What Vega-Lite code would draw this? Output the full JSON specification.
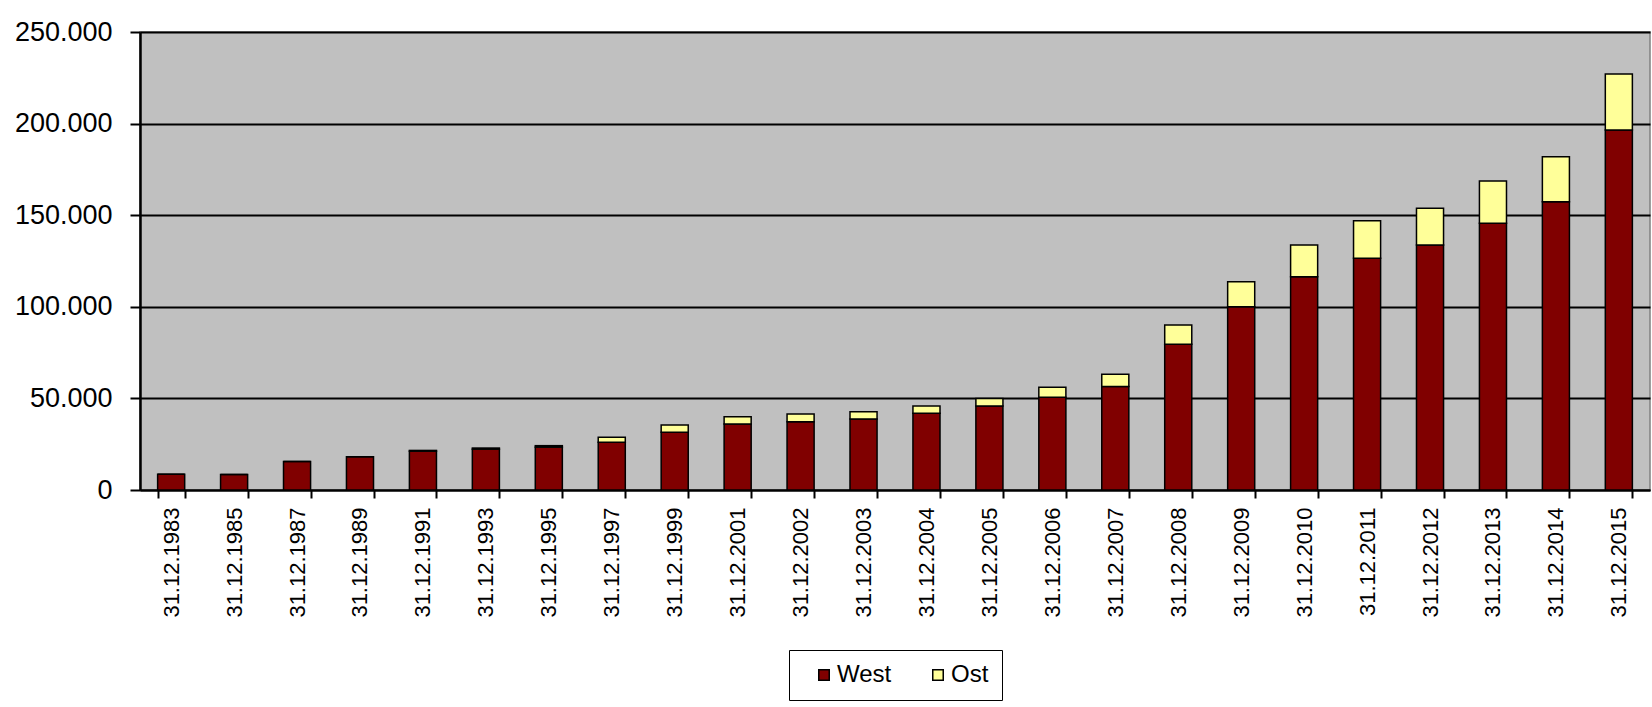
{
  "$schema": "https://vega.github.io/schema/vega-lite/v6.json",
  "autosize": {"type": "none"},
  "width": 1510,
  "height": 458,
  "padding": {"left": 140, "top": 32, "right": 2, "bottom": 217},
  "background": "white",
  "data": {
    "values": [
      {"datum": "31.12.1983", "region": "West", "value": 8600},
      {"datum": "31.12.1983", "region": "Ost", "value": 0},
      {"datum": "31.12.1985", "region": "West", "value": 8500},
      {"datum": "31.12.1985", "region": "Ost", "value": 0},
      {"datum": "31.12.1987", "region": "West", "value": 15600},
      {"datum": "31.12.1987", "region": "Ost", "value": 0},
      {"datum": "31.12.1989", "region": "West", "value": 18200},
      {"datum": "31.12.1989", "region": "Ost", "value": 0},
      {"datum": "31.12.1991", "region": "West", "value": 21200},
      {"datum": "31.12.1991", "region": "Ost", "value": 400},
      {"datum": "31.12.1993", "region": "West", "value": 22300},
      {"datum": "31.12.1993", "region": "Ost", "value": 600},
      {"datum": "31.12.1995", "region": "West", "value": 23400},
      {"datum": "31.12.1995", "region": "Ost", "value": 800},
      {"datum": "31.12.1997", "region": "West", "value": 26000},
      {"datum": "31.12.1997", "region": "Ost", "value": 2800},
      {"datum": "31.12.1999", "region": "West", "value": 31500},
      {"datum": "31.12.1999", "region": "Ost", "value": 4000},
      {"datum": "31.12.2001", "region": "West", "value": 36000},
      {"datum": "31.12.2001", "region": "Ost", "value": 4000},
      {"datum": "31.12.2002", "region": "West", "value": 37300},
      {"datum": "31.12.2002", "region": "Ost", "value": 4200},
      {"datum": "31.12.2003", "region": "West", "value": 38800},
      {"datum": "31.12.2003", "region": "Ost", "value": 3900},
      {"datum": "31.12.2004", "region": "West", "value": 41900},
      {"datum": "31.12.2004", "region": "Ost", "value": 4000},
      {"datum": "31.12.2005", "region": "West", "value": 45900},
      {"datum": "31.12.2005", "region": "Ost", "value": 4100},
      {"datum": "31.12.2006", "region": "West", "value": 50600},
      {"datum": "31.12.2006", "region": "Ost", "value": 5500},
      {"datum": "31.12.2007", "region": "West", "value": 56500},
      {"datum": "31.12.2007", "region": "Ost", "value": 6700},
      {"datum": "31.12.2008", "region": "West", "value": 79500},
      {"datum": "31.12.2008", "region": "Ost", "value": 10600},
      {"datum": "31.12.2009", "region": "West", "value": 100000},
      {"datum": "31.12.2009", "region": "Ost", "value": 13700},
      {"datum": "31.12.2010", "region": "West", "value": 116400},
      {"datum": "31.12.2010", "region": "Ost", "value": 17300},
      {"datum": "31.12.2011", "region": "West", "value": 126500},
      {"datum": "31.12.2011", "region": "Ost", "value": 20500},
      {"datum": "31.12.2012", "region": "West", "value": 133700},
      {"datum": "31.12.2012", "region": "Ost", "value": 20100},
      {"datum": "31.12.2013", "region": "West", "value": 145600},
      {"datum": "31.12.2013", "region": "Ost", "value": 23100},
      {"datum": "31.12.2014", "region": "West", "value": 157400},
      {"datum": "31.12.2014", "region": "Ost", "value": 24500},
      {"datum": "31.12.2015", "region": "West", "value": 196500},
      {"datum": "31.12.2015", "region": "Ost", "value": 30600}
    ]
  },
  "mark": {"type": "bar", "stroke": "black", "strokeWidth": 1.5},
  "encoding": {
    "x": {
      "field": "datum",
      "type": "nominal",
      "sort": null,
      "scale": {"paddingInner": 0.57, "paddingOuter": 0.28},
      "axis": {
        "title": null,
        "labelAngle": -90,
        "labelFont": "Liberation Sans",
        "labelFontSize": 22,
        "labelColor": "black",
        "labelPadding": 9,
        "tickSize": 8,
        "tickColor": "black",
        "tickWidth": 2,
        "tickBand": "extent",
        "domainColor": "black",
        "domainWidth": 2
      }
    },
    "y": {
      "field": "value",
      "type": "quantitative",
      "stack": "zero",
      "scale": {"domain": [0, 250000], "nice": false},
      "axis": {
        "title": null,
        "values": [0, 50000, 100000, 150000, 200000, 250000],
        "labelExpr": "replace(format(datum.value, ','), ',', '.')",
        "labelFont": "Liberation Sans",
        "labelFontSize": 27,
        "labelColor": "black",
        "labelPadding": 18,
        "tickSize": 10,
        "tickColor": "black",
        "tickWidth": 2,
        "domainColor": "black",
        "domainWidth": 2.5,
        "grid": true,
        "gridColor": "black",
        "gridWidth": 2
      }
    },
    "color": {
      "field": "region",
      "type": "nominal",
      "sort": ["West", "Ost"],
      "scale": {"domain": ["West", "Ost"], "range": ["#800000", "#FFFF99"]},
      "legend": {
        "title": null,
        "orient": "bottom",
        "direction": "horizontal",
        "offset": 32,
        "strokeColor": "black",
        "fillColor": "white",
        "padding": 13,
        "symbolType": "square",
        "symbolSize": 110,
        "symbolStrokeColor": "black",
        "symbolStrokeWidth": 1.5,
        "symbolOffset": 10,
        "labelFont": "Liberation Sans",
        "labelFontSize": 24,
        "labelColor": "black",
        "labelOffset": 1,
        "columnPadding": 24
      }
    }
  },
  "config": {
    "view": {"fill": "#C0C0C0", "stroke": "#808080", "strokeWidth": 1.5},
    "legend": {"layout": {"bottom": {"anchor": "middle"}}}
  }
}
